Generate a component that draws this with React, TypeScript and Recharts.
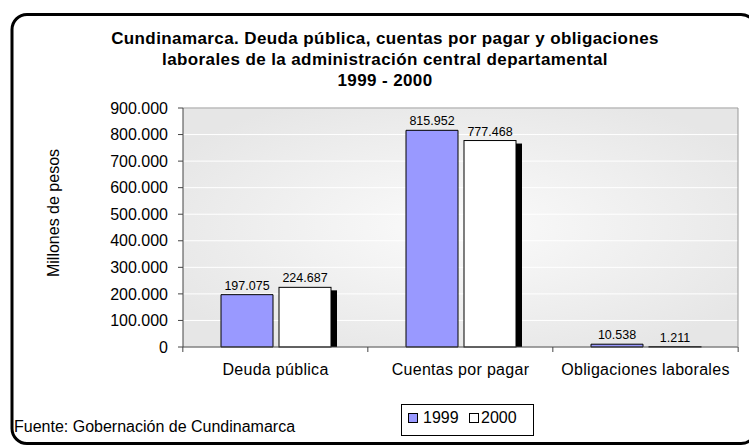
import React from 'react'
import { BarChart, Bar, XAxis, YAxis, CartesianGrid, LabelList, ReferenceLine } from 'recharts'

const categories = ['Deuda pública', 'Cuentas por pagar', 'Obligaciones laborales']
const values1999 = [197075, 815952, 10538]
const values2000 = [224687, 777468, 1211]
const yTicks = [0, 100000, 200000, 300000, 400000, 500000, 600000, 700000, 800000, 900000]
const seriesNames = ['1999', '2000']
const seriesColors = ['#9999FF', '#FFFFFF']

const titleLines = [
  'Cundinamarca. Deuda pública, cuentas por pagar y obligaciones',
  'laborales de la administración central  departamental',
  '1999 - 2000',
]

const data = categories.map((name, i) => ({ name, y1999: values1999[i], y2000: values2000[i] }))

const FONT = '"Liberation Sans", Arial, sans-serif'
const W = 749
const H = 446
const Y_AXIS_W = 183
const RIGHT = 10
const PLOT_W = W - Y_AXIS_W - RIGHT

const fmt = (v: any) => String(Math.round(Number(v))).replace(/\B(?=(\d{3})+(?!\d))/g, '.')

// 2000 bars carry a black drop shadow on the right
const ShadowBar = (props: any) => {
  const { x, y, width, height, fill } = props
  return (
    <g>
      {height > 3 && <rect x={x + 6} y={y + 3} width={width} height={height - 3} fill="#000" />}
      <rect x={x} y={y} width={width} height={height} fill={fill} stroke="#000" strokeWidth={1} />
    </g>
  )
}

const CategoryTick = (props: any) => {
  const { x, y, payload, index } = props
  const half = PLOT_W / categories.length / 2
  const axisY = y - 5
  return (
    <g>
      <line x1={x - half} x2={x - half} y1={axisY} y2={axisY + 5} stroke="#444" />
      {index === categories.length - 1 && (
        <line x1={x + half} x2={x + half} y1={axisY} y2={axisY + 5} stroke="#444" />
      )}
      <text x={x} y={axisY + 28} textAnchor="middle" fontSize={16} fill="#000" fontFamily={FONT} letterSpacing={0.3}>
        {payload.value}
      </text>
    </g>
  )
}

export default function App() {
  return (
    <div style={{ position: 'absolute', left: 0, top: 0, width: W, height: H, background: '#fff', fontFamily: FONT }}>
      <BarChart
        width={W}
        height={H}
        data={data}
        margin={{ top: 108, right: RIGHT, left: 0, bottom: 69 }}
        barCategoryGap={38}
        barGap={6}
      >
        <defs>
          <radialGradient id="plotBg" cx="50%" cy="50%" r="60%">
            <stop offset="0%" stopColor="#FBFBFB" />
            <stop offset="100%" stopColor="#E6E6E6" />
          </radialGradient>
        </defs>
        <CartesianGrid vertical={false} stroke="#FFFFFF" fill="url(#plotBg)" />
        <XAxis
          dataKey="name"
          height={30}
          tickLine={false}
          tickSize={5}
          tickMargin={0}
          axisLine={{ stroke: '#444' }}
          tick={<CategoryTick />}
          interval={0}
        />
        <YAxis
          width={Y_AXIS_W}
          domain={[0, 900000]}
          ticks={yTicks}
          tickFormatter={fmt}
          tickSize={5}
          tickMargin={10}
          axisLine={{ stroke: '#444' }}
          tickLine={{ stroke: '#444' }}
          tick={{ fontSize: 16, fill: '#000', fontFamily: FONT }}
        />
        <YAxis yAxisId="r" orientation="right" width={1} tick={false} tickLine={false} axisLine={{ stroke: '#999' }} />
        <ReferenceLine y={900000} stroke="#999" />
        <Bar dataKey="y1999" fill={seriesColors[0]} stroke="#000" strokeWidth={1} isAnimationActive={false}>
          <LabelList dataKey="y1999" position="top" formatter={fmt} fontSize={12.5} fill="#000" fontFamily={FONT} />
        </Bar>
        <Bar dataKey="y2000" fill={seriesColors[1]} shape={<ShadowBar />} isAnimationActive={false}>
          <LabelList dataKey="y2000" position="top" formatter={fmt} fontSize={12.5} fill="#000" fontFamily={FONT} />
        </Bar>
      </BarChart>
      <svg width={W} height={H} style={{ position: 'absolute', left: 0, top: 0, pointerEvents: 'none' }}>
        <rect x={12} y={14.5} width={744} height={429} rx={15} fill="none" stroke="#000" strokeWidth={3} />
        {titleLines.map((t, i) => (
          <text key={i} x={385} y={[44, 64.5, 86][i]} textAnchor="middle" fontSize={17} fontWeight="bold" letterSpacing={0.4} fontFamily={FONT} fill="#000">
            {t}
          </text>
        ))}
        <text x={53} y={213} transform="rotate(-90 53 213)" textAnchor="middle" dominantBaseline="central" fontSize={16} fontFamily={FONT} fill="#000">
          Millones de pesos
        </text>
        <text x={14} y={432} fontSize={16} fontFamily={FONT} fill="#000">
          Fuente: Gobernación de Cundinamarca
        </text>
        <rect x={401.5} y={404.5} width={132} height={31} fill="#fff" stroke="#000" />
        {seriesNames.map((n, i) => (
          <g key={n}>
            <rect x={408.5 + i * 61} y={413.5} width={9} height={9} fill={seriesColors[i]} stroke="#000" />
            <text x={423 + i * 58} y={423} fontSize={16} fontFamily={FONT} fill="#000">{n}</text>
          </g>
        ))}
      </svg>
    </div>
  )
}
